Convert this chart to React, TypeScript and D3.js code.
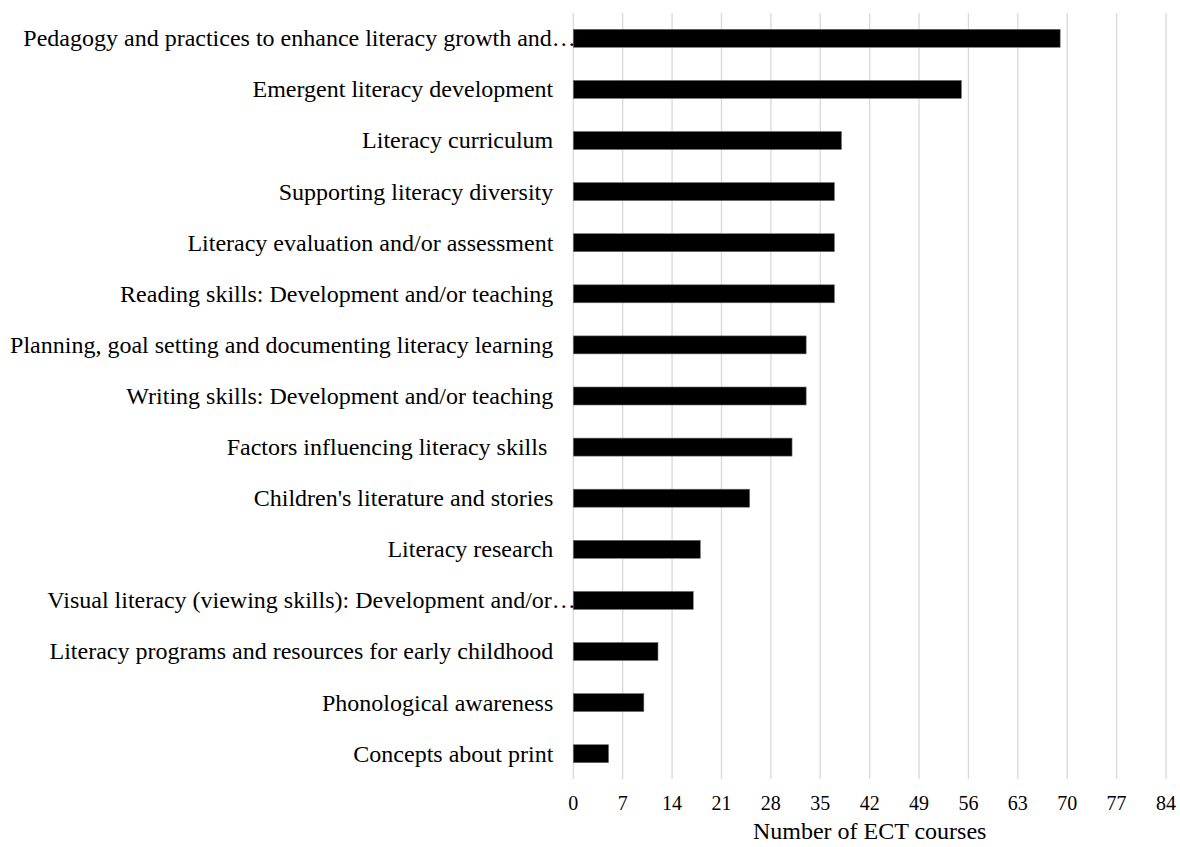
import React from "react";
import * as d3 from "d3";

const categories = [
  "Pedagogy and practices to enhance literacy growth and…",
  "Emergent literacy development",
  "Literacy curriculum",
  "Supporting literacy diversity",
  "Literacy evaluation and/or assessment",
  "Reading skills: Development and/or teaching",
  "Planning, goal setting and documenting literacy learning",
  "Writing skills: Development and/or teaching",
  "Factors influencing literacy skills ",
  "Children's literature and stories",
  "Literacy research",
  "Visual literacy (viewing skills): Development and/or…",
  "Literacy programs and resources for early childhood",
  "Phonological awareness",
  "Concepts about print",
];
const values = [69, 55, 38, 37, 37, 37, 33, 33, 31, 25, 18, 17, 12, 10, 5];
const ticks = [0, 7, 14, 21, 28, 35, 42, 49, 56, 63, 70, 77, 84];
const axisTitle = "Number of ECT courses";

const W = 1180;
const H = 847;
const FONT = "'Liberation Serif', 'Times New Roman', serif";

export default function App() {
  const x = d3.scaleLinear().domain([0, 84]).range([573.3, 1166]);
  const y = d3
    .scaleBand<string>()
    .domain(categories)
    .range([12.75, 779.25])
    .paddingInner(0.648)
    .paddingOuter(0.324);
  const top = 13;
  const bottom = 779;

  return (
    <svg
      width={W}
      height={H}
      style={{ position: "absolute", left: 0, top: 0, display: "block", background: "#fff" }}
      fontFamily={FONT}
    >
      <rect x={0} y={0} width={W} height={H} fill="#fff" />
      {ticks.map((t) => (
        <line
          key={"g" + t}
          x1={x(t)}
          x2={x(t)}
          y1={top}
          y2={bottom}
          stroke="#d9d9d9"
          strokeWidth={1.3}
        />
      ))}
      {categories.map((c, i) => (
        <rect
          key={"b" + c}
          x={x(0)}
          y={y(c)!}
          width={x(values[i]) - x(0)}
          height={y.bandwidth()}
          fill="#000"
          stroke="#6e6e6e"
          strokeWidth={0.6}
        />
      ))}
      {categories.map((c) => {
        const trunc = c.endsWith("…");
        return (
          <text
            key={"l" + c}
            x={trunc ? x(0) + 2.5 : x(0) - 20}
            y={y(c)! + y.bandwidth() / 2}
            dy="0.33em"
            textAnchor="end"
            fontSize={24}
            fill="#000"
            style={{ whiteSpace: "pre" }}
          >
            {c}
          </text>
        );
      })}
      {ticks.map((t) => (
        <text
          key={"t" + t}
          x={x(t)}
          y={803}
          dy="0.33em"
          textAnchor="middle"
          fontSize={20}
          fill="#000"
        >
          {t}
        </text>
      ))}
      <text
        x={(x(0) + x(84)) / 2}
        y={831}
        dy="0.33em"
        textAnchor="middle"
        fontSize={24}
        fill="#000"
      >
        {axisTitle}
      </text>
    </svg>
  );
}
